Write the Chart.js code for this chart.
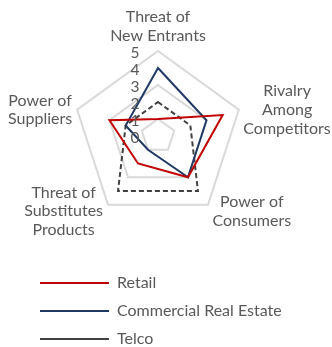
<!DOCTYPE html>
<html>
<head>
<meta charset="utf-8">
<script src="https://cdn.jsdelivr.net/npm/chart.js@4/dist/chart.umd.min.js"></script>
<style>
  html, body { margin: 0; padding: 0; background: #ffffff; }
  #wrap { width: 332px; height: 347px; position: relative; }
</style>
</head>
<body>
<div id="wrap"><canvas id="c" width="332" height="347"></canvas></div>
<script>
// ---- data ----
const categories = [
  ['Threat of', 'New Entrants'],
  ['Rivalry', 'Among', 'Competitors'],
  ['Power of', 'Consumers'],
  ['Threat of', 'Substitutes', 'Products'],
  ['Power of', 'Suppliers']
];
const seriesNames = ['Retail', 'Commercial Real Estate', 'Telco'];
const retail = [1, 4, 3, 2, 3];
const commercialRealEstate = [4, 3, 3, 1, 2];
const telco = [2, 2, 4, 4, 2];
const tickLabels = ['0', '1', '2', '3', '4', '5'];

// ---- styles ----
const TEXT = '#595959';
const FONT = 'Lato';

const customLabels = {
  id: 'customLabels',
  afterDatasetsDraw(chart) {
    const s = chart.scales.r;
    const ctx = chart.ctx;
    ctx.save();
    ctx.fillStyle = TEXT;
    ctx.textBaseline = 'middle';
    // tick labels (left of the vertical axis)
    ctx.font = '15.5px ' + FONT;
    ctx.textAlign = 'right';
    s.ticks.forEach((t, i) => {
      const r = s.getDistanceFromCenterForValue(t.value);
      ctx.fillText(tickLabels[i] ?? t.label, s.xCenter - 18.5, s.yCenter - r + 2);
    });
    // point labels, centred text blocks
    ctx.font = '16px ' + FONT;
    const lh = 18.7;
    ctx.textAlign = 'center';
    chart.data.labels.forEach((lines, i) => {
      const p = s.getPointPosition(i, s.drawingArea);
      const a = s.getIndexAngle(i);
      const sn = Math.sin(a), cs = Math.cos(a);
      const w = Math.max(...lines.map(l => ctx.measureText(l).width));
      const n = lines.length;
      let cx, firstY;
      if (Math.abs(sn) < 0.01) {
        cx = p.x;
        firstY = p.y - 15.5 - (n - 1) * lh;
      } else {
        cx = sn > 0 ? p.x + 4.5 + w / 2 : p.x - 5 - w / 2;
        const cy = p.y + (cs < 0 ? 6.5 : 0);
        firstY = cy - (n - 1) * lh / 2;
      }
      lines.forEach((l, k) => ctx.fillText(l, cx, firstY + k * lh));
    });
    ctx.restore();
  }
};

new Chart(document.getElementById('c'), {
  type: 'radar',
  data: {
    labels: categories,
    datasets: [
      { label: seriesNames[0], data: retail, borderColor: '#c00000', backgroundColor: 'transparent',
        borderWidth: 2, fill: false, pointRadius: 0, pointHoverRadius: 0, tension: 0 },
      { label: seriesNames[1], data: commercialRealEstate, borderColor: '#203864', backgroundColor: 'transparent',
        borderWidth: 2, fill: false, pointRadius: 0, pointHoverRadius: 0, tension: 0 },
      { label: seriesNames[2], data: telco, borderColor: '#404040', backgroundColor: 'transparent',
        borderWidth: 2, borderDash: [5, 3], fill: false, pointRadius: 0, pointHoverRadius: 0, tension: 0 }
    ]
  },
  options: {
    responsive: false,
    animation: false,
    events: [],
    layout: { padding: { left: 28, right: 44, top: 10, bottom: -10 } },
    scales: {
      r: {
        min: 0,
        max: 5,
        ticks: { stepSize: 1, display: false },
        pointLabels: { display: false },
        angleLines: { display: false },
        grid: {
          circular: false,
          lineWidth: 2,
          color: (c) => (c.tick && c.tick.value % 2 === 1) ? '#d9d9d9' : 'rgba(0,0,0,0)'
        },
        afterFit: (scale) => { scale.drawingArea = 85; }
      }
    },
    plugins: {
      tooltip: { enabled: false },
      legend: {
        position: 'bottom',
        align: 'start',
        labels: {
          usePointStyle: true,
          pointStyle: 'line',
          pointStyleWidth: 69,
          padding: 12,
          color: TEXT,
          font: { family: FONT, size: 16 }
        }
      }
    }
  },
  plugins: [customLabels]
});
</script>
</body>
</html>
